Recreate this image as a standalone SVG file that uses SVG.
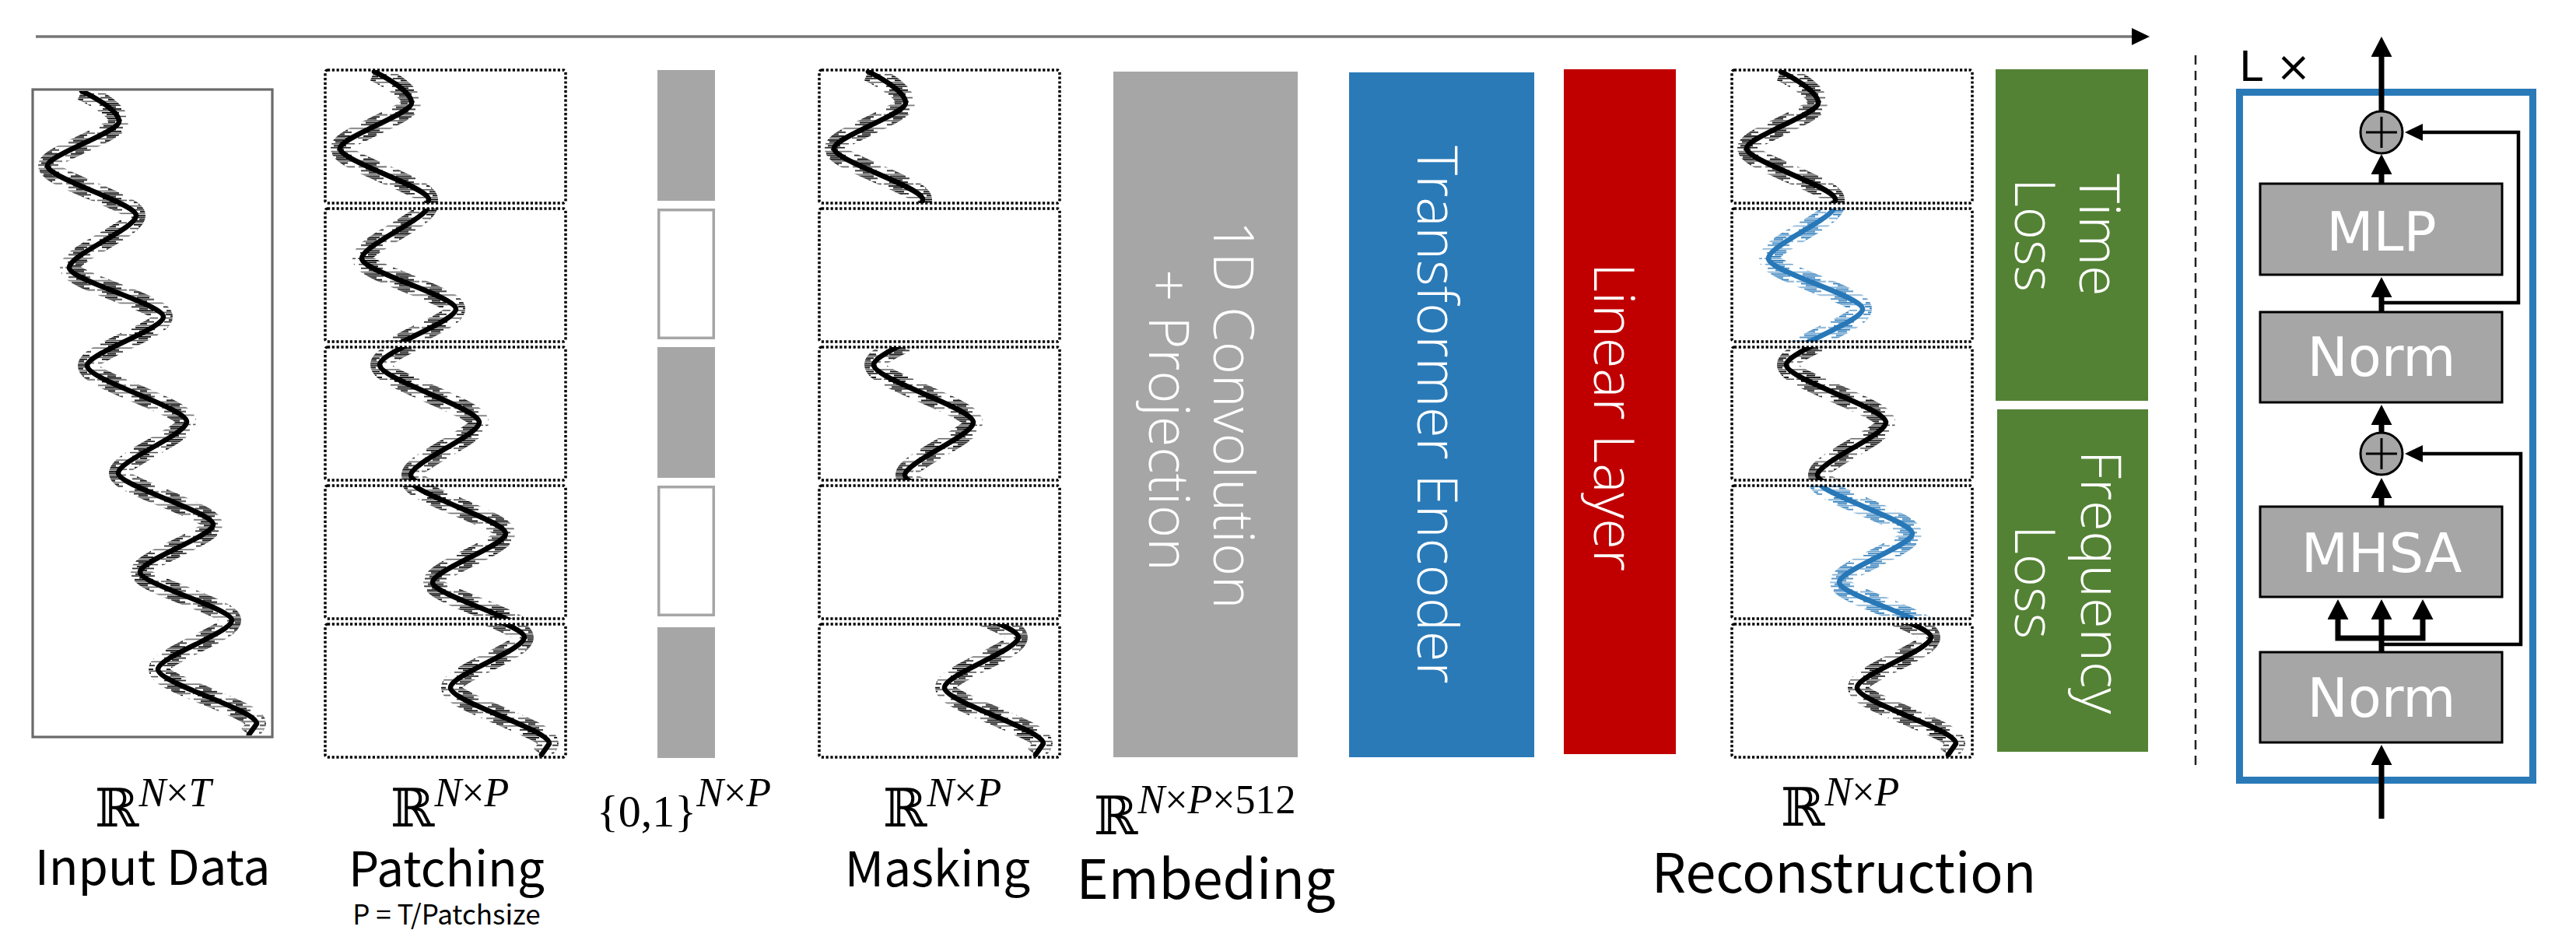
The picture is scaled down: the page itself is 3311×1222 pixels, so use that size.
<svg xmlns="http://www.w3.org/2000/svg" xmlns:xlink="http://www.w3.org/1999/xlink" width="3311" height="1222" viewBox="0 0 3311 1222">
<style>
.bg{fill:#fff}
.patch{fill:none;stroke:#000;stroke-width:3.5;stroke-dasharray:3.2 2.6}
.wline{fill:none;stroke-width:6.5;stroke-linejoin:round;stroke-linecap:round}
.wnoise{fill:none;stroke-width:24;stroke-linejoin:round}
.grey{fill:#a6a6a6}
.hole{fill:#fff;stroke:#a6a6a6;stroke-width:3.5}
.wt{font-family:"Open Sans","Noto Sans",sans-serif;font-weight:300;font-size:72px;fill:#fff;text-anchor:middle}
.lbl{font-family:"Noto Sans CJK KR","Noto Sans",sans-serif;font-size:62px;fill:#000;text-anchor:middle}
.big{font-size:70px}
.small{font-size:35px}
.math{font-family:"Liberation Serif","DejaVu Serif",serif;font-size:52px;fill:#000}
.bb{font-family:"DejaVu Serif","DejaVu Sans",serif;font-size:68px}
.it{font-style:italic}
.box{fill:#a6a6a6;stroke:#000;stroke-width:3}
.btxt{font-family:"DejaVu Sans",sans-serif;font-size:70px;fill:#fff;text-anchor:middle}
.thick{fill:none;stroke:#000;stroke-width:7}
.thin{fill:none;stroke:#000;stroke-width:4.5}
.add{fill:#a6a6a6;stroke:#000;stroke-width:3}
.plus{stroke:#000;stroke-width:3;fill:none}
</style>
<defs>
<path id="wp" d="M105,117 C128,128 153,144 153,156 C153,170 61,199 61,213 C61,229 175,261 175,277 C175,294 89,327 89,344 C89,360 210,391 210,407 C210,423 112,454 112,470 C112,488 240,524 240,542 C240,558 152,592 152,608 C152,624 274,658 274,674 C274,689 180,720 180,735 C180,751 298,781 298,797 C298,813 203,844 203,860 C203,878 330,912 330,930 L320,944"/>
<g id="ticks">
<rect x="8" y="0" width="22" height="1.7"/>
<rect x="14" y="2.4" width="12" height="1.7"/>
<rect x="3" y="4.8" width="36" height="1.5" opacity="0.7"/>
<rect x="12" y="7.2" width="16" height="1.7"/>
<rect x="6" y="9.6" width="28" height="1.7" opacity="0.85"/>
<rect x="16" y="12" width="9" height="1.7"/>
<rect x="0" y="14.4" width="41" height="1.5" opacity="0.6"/>
<rect x="10" y="16.8" width="20" height="1.7"/>
<rect x="5" y="19.2" width="30" height="1.7" opacity="0.85"/>
<rect x="15" y="21.6" width="11" height="1.7"/>
<rect x="9" y="24" width="24" height="1.7"/>
<rect x="2" y="26.4" width="38" height="1.5" opacity="0.7"/>
</g>
<pattern id="hk" patternUnits="userSpaceOnUse" width="41" height="28.8"><use xlink:href="#ticks" fill="#000"/></pattern>
<pattern id="hb" patternUnits="userSpaceOnUse" width="41" height="28.8"><use xlink:href="#ticks" fill="#2878b8"/></pattern>
<g id="wave"><use xlink:href="#wp" class="wnoise" stroke="url(#hk)"/><use xlink:href="#wp" class="wline" stroke="#000"/></g>
<g id="waveb"><use xlink:href="#wp" class="wnoise" stroke="url(#hb)"/><use xlink:href="#wp" class="wline" stroke="#2878b8"/></g>
<clipPath id="r0"><rect x="40" y="90" width="313" height="171"/></clipPath>
<clipPath id="r1"><rect x="40" y="268" width="313" height="171"/></clipPath>
<clipPath id="r2"><rect x="40" y="446" width="313" height="171"/></clipPath>
<clipPath id="r3"><rect x="40" y="624" width="313" height="171"/></clipPath>
<clipPath id="r4"><rect x="40" y="802" width="313" height="171"/></clipPath>
<clipPath id="rin"><rect x="44" y="117" width="304" height="828"/></clipPath>
<marker id="ah1" viewBox="0 0 26 27" refX="0" refY="13.5" markerWidth="26" markerHeight="27" markerUnits="userSpaceOnUse" orient="auto"><path d="M0,0 L26,13.5 L0,27 z" fill="#000"/></marker>
<marker id="ah2" viewBox="0 0 23 22" refX="0" refY="11" markerWidth="23" markerHeight="22" markerUnits="userSpaceOnUse" orient="auto"><path d="M0,0 L23,11 L0,22 z" fill="#000"/></marker>
</defs>
<rect class="bg" x="0" y="0" width="3311" height="1222"/>

<g id="input-data">
<rect x="42" y="115" width="308" height="832" fill="#fff" stroke="#6a6a6a" stroke-width="3.2"/>
<g clip-path="url(#rin)"><use xlink:href="#wave"/></g>
<text class="math" x="122" y="1062"><tspan class="bb">ℝ</tspan><tspan class="it" dy="-26">N</tspan><tspan>×</tspan><tspan class="it">T</tspan></text>
<text class="lbl" x="196" y="1137">Input Data</text>
</g>

<g id="patching">
<g transform="translate(376,0)">
<g clip-path="url(#r0)"><use xlink:href="#wave" transform="translate(0,-28.17) scale(1,1.0276)"/></g>
<g clip-path="url(#r1)"><use xlink:href="#wave" transform="translate(0,-21.17) scale(1,1.0276)"/></g>
<g clip-path="url(#r2)"><use xlink:href="#wave" transform="translate(0,-14.16) scale(1,1.0276)"/></g>
<g clip-path="url(#r3)"><use xlink:href="#wave" transform="translate(0,-7.15) scale(1,1.0276)"/></g>
<g clip-path="url(#r4)"><use xlink:href="#wave" transform="translate(0,-0.14) scale(1,1.0276)"/></g>
<rect class="patch" x="42" y="90" width="309" height="171" rx="3"/>
<rect class="patch" x="42" y="268" width="309" height="171" rx="3"/>
<rect class="patch" x="42" y="446" width="309" height="171" rx="3"/>
<rect class="patch" x="42" y="624" width="309" height="171" rx="3"/>
<rect class="patch" x="42" y="802" width="309" height="171" rx="3"/>
</g>
<text class="math" x="502" y="1062"><tspan class="bb">ℝ</tspan><tspan class="it" dy="-26">N</tspan><tspan>×</tspan><tspan class="it">P</tspan></text>
<text class="lbl" x="574" y="1139">Patching</text>
<text class="lbl small" x="574" y="1188">P = T/Patchsize</text>
</g>

<g id="mask">
<rect class="grey" x="845" y="90" width="74" height="168"/>
<rect class="hole" x="846.75" y="269.75" width="70.5" height="164.5"/>
<rect class="grey" x="845" y="446" width="74" height="168"/>
<rect class="hole" x="846.75" y="625.75" width="70.5" height="164.5"/>
<rect class="grey" x="845" y="806" width="74" height="168"/>
<text class="math" x="767" y="1062"><tspan font-size="58">{0,1}</tspan><tspan class="it" dy="-26">N</tspan><tspan>×</tspan><tspan class="it">P</tspan></text>
</g>

<g id="masking">
<g transform="translate(1011,0)">
<g clip-path="url(#r0)"><use xlink:href="#wave" transform="translate(0,-28.17) scale(1,1.0276)"/></g>
<g clip-path="url(#r2)"><use xlink:href="#wave" transform="translate(0,-14.16) scale(1,1.0276)"/></g>
<g clip-path="url(#r4)"><use xlink:href="#wave" transform="translate(0,-0.14) scale(1,1.0276)"/></g>
<rect class="patch" x="42" y="90" width="309" height="171" rx="3"/>
<rect class="patch" x="42" y="268" width="309" height="171" rx="3"/>
<rect class="patch" x="42" y="446" width="309" height="171" rx="3"/>
<rect class="patch" x="42" y="624" width="309" height="171" rx="3"/>
<rect class="patch" x="42" y="802" width="309" height="171" rx="3"/>
</g>
<text class="math" x="1135" y="1062"><tspan class="bb">ℝ</tspan><tspan class="it" dy="-26">N</tspan><tspan>×</tspan><tspan class="it">P</tspan></text>
<text class="lbl" x="1205" y="1139">Masking</text>
</g>

<g id="embedding">
<rect x="1431" y="92" width="237" height="881" fill="#a6a6a6"/>
<text class="wt" transform="translate(1560,533) rotate(90)">1D Convolution</text>
<text class="wt" transform="translate(1477,540) rotate(90)">+ Projection</text>
<text class="math" x="1406" y="1072"><tspan class="bb">ℝ</tspan><tspan class="it" dy="-27">N</tspan><tspan>×</tspan><tspan class="it">P</tspan><tspan>×512</tspan></text>
<text class="lbl big" x="1550" y="1155">Embeding</text>
</g>

<g id="transformer-encoder">
<rect x="1734" y="93" width="238" height="880" fill="#2a7ab8"/>
<text class="wt" transform="translate(1822,533) rotate(90)">Transformer Encoder</text>
</g>

<g id="linear-layer">
<rect x="2010" y="89" width="144" height="880" fill="#c00000"/>
<text class="wt" transform="translate(2049,536) rotate(90)">Linear Layer</text>
</g>

<g id="reconstruction">
<g transform="translate(2184,0)">
<g clip-path="url(#r0)"><use xlink:href="#wave" transform="translate(0,-28.17) scale(1,1.0276)"/></g>
<g clip-path="url(#r1)"><use xlink:href="#waveb" transform="translate(0,-21.17) scale(1,1.0276)"/></g>
<g clip-path="url(#r2)"><use xlink:href="#wave" transform="translate(0,-14.16) scale(1,1.0276)"/></g>
<g clip-path="url(#r3)"><use xlink:href="#waveb" transform="translate(0,-7.15) scale(1,1.0276)"/></g>
<g clip-path="url(#r4)"><use xlink:href="#wave" transform="translate(0,-0.14) scale(1,1.0276)"/></g>
<rect class="patch" x="42" y="90" width="309" height="171" rx="3"/>
<rect class="patch" x="42" y="268" width="309" height="171" rx="3"/>
<rect class="patch" x="42" y="446" width="309" height="171" rx="3"/>
<rect class="patch" x="42" y="624" width="309" height="171" rx="3"/>
<rect class="patch" x="42" y="802" width="309" height="171" rx="3"/>
</g>
<text class="math" x="2289" y="1061"><tspan class="bb">ℝ</tspan><tspan class="it" dy="-26">N</tspan><tspan>×</tspan><tspan class="it">P</tspan></text>
<text class="lbl big" x="2370" y="1147">Reconstruction</text>
</g>

<g id="time-loss">
<rect x="2565" y="89" width="196" height="426" fill="#548235"/>
<text class="wt" transform="translate(2673,302) rotate(90)">Time</text>
<text class="wt" transform="translate(2590,302) rotate(90)">Loss</text>
</g>

<g id="frequency-loss">
<rect x="2567" y="526" width="194" height="440" fill="#548235"/>
<text class="wt" transform="translate(2675,748) rotate(90)">Frequency</text>
<text class="wt" transform="translate(2590,748) rotate(90)">Loss</text>
</g>

<g id="separator">
<line x1="2822" y1="71" x2="2822" y2="983" stroke="#222" stroke-width="2.5" stroke-dasharray="12 8"/>
</g>

<g id="encoder-block">
<rect x="2878.5" y="118.5" width="377" height="884" fill="none" stroke="#2a7ab8" stroke-width="9"/>
<text x="2878" y="104" font-family="DejaVu Sans, sans-serif" font-size="54" fill="#000">L ×</text>
</g>

<g id="mlp">
<rect class="box" x="2905" y="236" width="311" height="117"/>
<text class="btxt" x="3061" y="322">MLP</text>
</g>
<g id="norm-upper">
<rect class="box" x="2905" y="401" width="311" height="116"/>
<text class="btxt" x="3061" y="483">Norm</text>
</g>
<g id="mhsa">
<rect class="box" x="2905" y="651" width="311" height="116"/>
<text class="btxt" x="3061" y="735">MHSA</text>
</g>
<g id="norm-lower">
<rect class="box" x="2905" y="838" width="311" height="116"/>
<text class="btxt" x="3061" y="921">Norm</text>
</g>
<g id="add-upper">
<circle class="add" cx="3061" cy="170" r="27"/>
<path class="plus" d="M3041,170 H3081 M3061,150 V190"/>
</g>
<g id="add-lower">
<circle class="add" cx="3061" cy="583" r="27"/>
<path class="plus" d="M3041,583 H3081 M3061,563 V603"/>
</g>

<g id="connectors">
<line x1="46" y1="47" x2="2740" y2="47" stroke="#767676" stroke-width="3.5" marker-end="url(#ah2)"/>
<line class="thick" x1="3061" y1="143" x2="3061" y2="73" marker-end="url(#ah1)"/>
<line class="thick" x1="3061" y1="236" x2="3061" y2="224" marker-end="url(#ah1)"/>
<line class="thick" x1="3061" y1="401" x2="3061" y2="382" marker-end="url(#ah1)"/>
<line class="thick" x1="3061" y1="556" x2="3061" y2="546" marker-end="url(#ah1)"/>
<line class="thick" x1="3061" y1="651" x2="3061" y2="640" marker-end="url(#ah1)"/>
<line class="thick" x1="3061" y1="838" x2="3061" y2="796" marker-end="url(#ah1)"/>
<polyline class="thick" points="3064,820 3005,820 3005,796" marker-end="url(#ah1)"/>
<polyline class="thick" points="3058,820 3114,820 3114,796" marker-end="url(#ah1)"/>
<line class="thick" x1="3061" y1="1052" x2="3061" y2="983" marker-end="url(#ah1)"/>
<polyline class="thin" points="3061,389 3237,389 3237,170 3114,170" marker-end="url(#ah2)"/>
<polyline class="thin" points="3061,828 3240,828 3240,583 3114,583" marker-end="url(#ah2)"/>
</g>
</svg>
